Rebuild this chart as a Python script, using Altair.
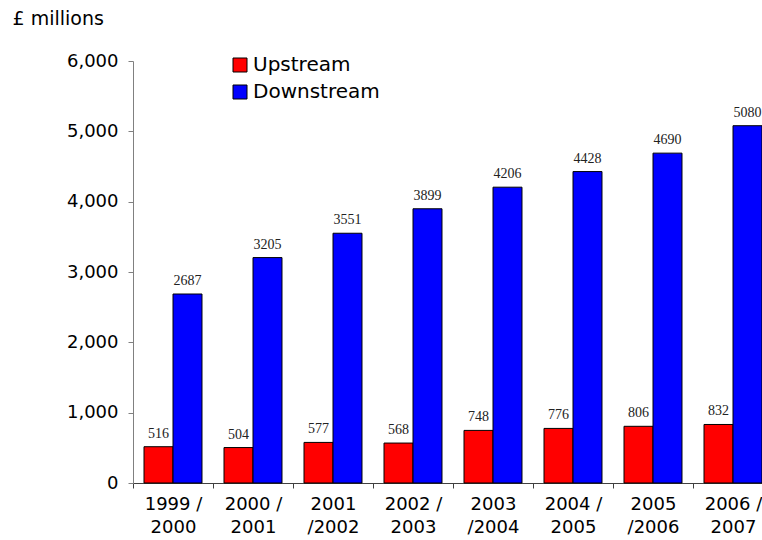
import altair as alt
import pandas as pd

# Financial years (two-line labels) and spend per series, £ millions
periods = ["1999 /\n2000", "2000 /\n2001", "2001\n/2002", "2002 /\n2003",
           "2003\n/2004", "2004 /\n2005", "2005\n/2006", "2006 /\n2007"]
upstream = [516, 504, 577, 568, 748, 776, 806, 832]
downstream = [2687, 3205, 3551, 3899, 4206, 4428, 4690, 5080]
series = ["Upstream", "Downstream"]
series_colors = ["#ff0000", "#0000ff"]
y_ticks = [0, 1000, 2000, 3000, 4000, 5000, 6000]

rows = []
for i, p in enumerate(periods):
    rows.append({"period": p, "series": "Upstream", "value": upstream[i]})
    rows.append({"period": p, "series": "Downstream", "value": downstream[i]})
df = pd.DataFrame(rows)

SANS = "DejaVu Sans"
SERIF = "Liberation Serif"

x_enc = alt.X(
    "period:N",
    sort=periods,
    scale=alt.Scale(range=[0, 640], paddingInner=0, paddingOuter=0),
    axis=alt.Axis(
        title=None,
        labelAngle=0,
        labelExpr="split(datum.label, '\\n')",
        labelFont=SANS,
        labelFontSize=18,
        labelColor="#000000",
        labelLineHeight=23,
        labelPadding=7,
        tickBand="extent",
        tickSize=5,
        tickColor="#404040",
        domainColor="#404040",
    ),
)

y_enc = alt.Y(
    "value:Q",
    scale=alt.Scale(domain=[0, 6000], nice=False),
    axis=alt.Axis(
        values=y_ticks,
        format=",d",
        grid=False,
        labelFont=SANS,
        labelFontSize=18,
        labelColor="#000000",
        labelPadding=10,
        tickSize=5,
        tickColor="#808080",
        domainColor="#808080",
        title="£ millions",
        titleFont=SANS,
        titleFontSize=19,
        titleFontWeight="normal",
        titleColor="#000000",
        titleAngle=0,
        titleAlign="left",
        titleBaseline="alphabetic",
        titleX=-121,
        titleY=-37,
    ),
)

x_off = alt.XOffset(
    "series:N",
    sort=series,
    scale=alt.Scale(paddingInner=0, paddingOuter=0.38),
)

bars = alt.Chart(df).mark_bar(stroke="#000000", strokeWidth=1).encode(
    x=x_enc,
    xOffset=x_off,
    y=y_enc,
    color=alt.Color(
        "series:N",
        sort=series,
        scale=alt.Scale(domain=series, range=series_colors),
        legend=alt.Legend(
            title=None,
            orient="none",
            legendX=97,
            legendY=-6,
            symbolType="square",
            symbolSize=196,
            symbolStrokeColor="#000000",
            symbolStrokeWidth=1,
            symbolOpacity=1,
            labelFont=SANS,
            labelFontSize=20,
            labelColor="#000000",
            labelOffset=3,
            rowPadding=7,
        ),
    ),
)

labels = alt.Chart(df).mark_text(
    font=SERIF, fontSize=14, color="#222222", baseline="alphabetic", dy=-9
).encode(
    x=alt.X("period:N", sort=periods),
    xOffset=alt.XOffset("series:N", sort=series),
    y=alt.Y("value:Q"),
    text=alt.Text("value:Q", format="d"),
)

chart = (
    alt.layer(bars, labels)
    .properties(
        width=629,
        height=422,
        autosize=alt.AutoSizeParams(type="none"),
        padding={"left": 133, "top": 61, "right": 0, "bottom": 57},
        background="#ffffff",
    )
    .configure_view(stroke=None)
)

chart.save("out.html", embed_options={"renderer": "svg", "actions": False})
